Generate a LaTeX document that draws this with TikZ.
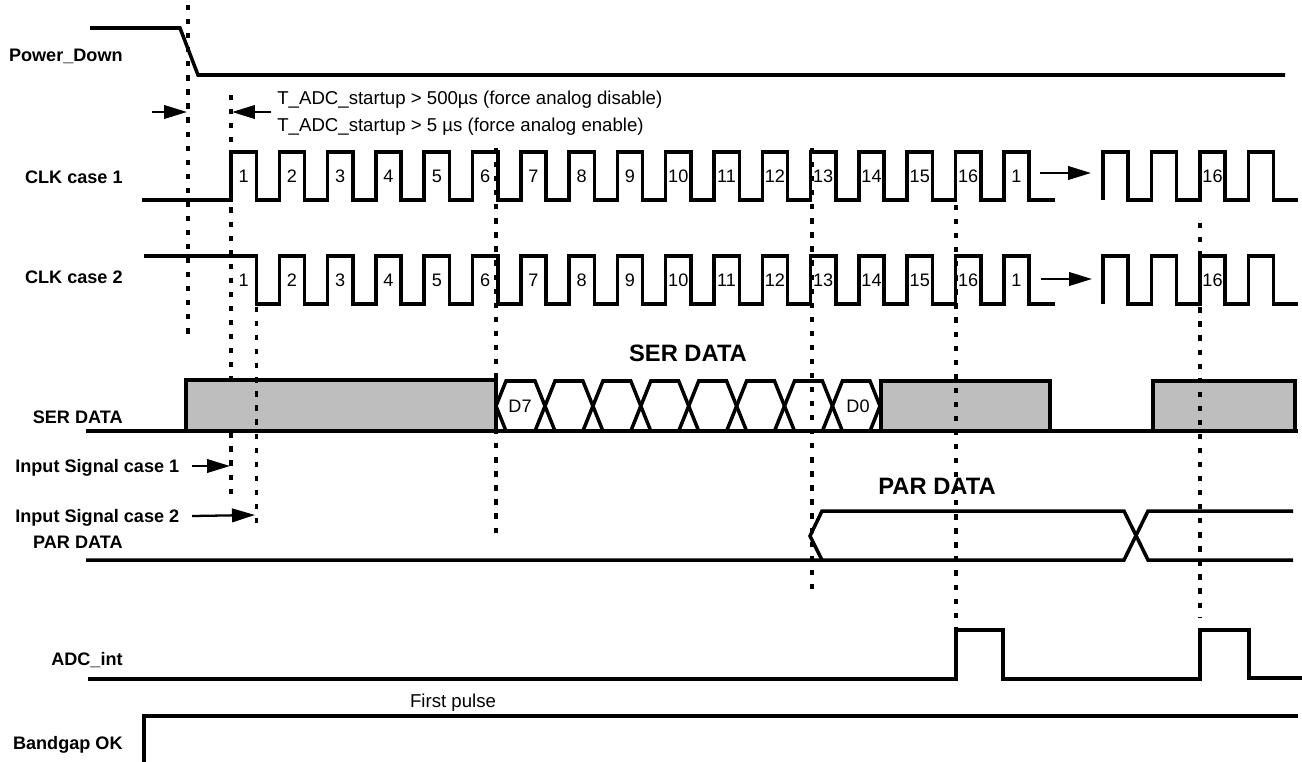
\documentclass[tikz,border=0pt]{standalone}
\usepackage{fontspec}
\setmainfont{Liberation Sans}
\usetikzlibrary{arrows.meta, positioning}
\definecolor{busyGray}{HTML}{BEBEBE}

\begin{document}
\begin{tikzpicture}[x=0.02cm, y=-0.02cm,
  sig/.style={line width=2pt},
  guide/.style={line width=1.8pt, dash pattern=on 3pt off 5pt},
  rowlabel/.style={anchor=east, inner sep=0pt, text height=0.72em, text depth=0pt, font=\fontsize{10.3}{12}\selectfont\bfseries},
  num/.style={inner sep=0pt, text height=0.72em, text depth=0pt, font=\fontsize{10.3}{12}\selectfont},
  note/.style={anchor=west, inner sep=0pt, text height=0.72em, text depth=0pt, font=\fontsize{10.6}{12}\selectfont},
  busname/.style={inner sep=0pt, text height=0.72em, text depth=0pt, font=\fontsize{13.5}{16}\selectfont\bfseries},
  tip/.style={line width=1.3pt, -{Triangle[length=0.46cm, width=0.27cm]}},
  busy/.style={draw, line width=2pt, fill=busyGray}]
\useasboundingbox (0,0) rectangle (1302,761);

% row labels
\node[rowlabel] (lpd) at (123,55) {Power\_Down};
\node[rowlabel] (lclk1) at (123,177) {CLK case 1};
\node[rowlabel] (lclk2) at (123,277) {CLK case 2};
\node[rowlabel] (lser) at (123,417) {SER DATA};
\node[rowlabel, anchor=west] (lin1) at (15,466) {Input Signal case 1};
\node[rowlabel, anchor=west] (lin2) at (15,516) {Input Signal case 2};
\node[rowlabel] (lpar) at (123,542) {PAR DATA};
\node[rowlabel] (ladc) at (123,659) {ADC\_int};
\node[rowlabel] (lbg) at (123,743) {Bandgap OK};

% Power_Down
\draw[sig] (90,28) -- (180,28) -- (198,75) -- (1285,75);

% startup time
\node[note] (tdis) at (277,98) {T\_ADC\_startup > 500µs (force analog disable)};
\node[note] (ten) at (277,125) {T\_ADC\_startup > 5 µs (force analog enable)};
\coordinate (suL) at (152,112);
\coordinate (suLt) at (187,112);
\coordinate (suR) at (271,112);
\coordinate (suRt) at (232,112);
\draw[tip] (suL) -- (suLt);
\draw[tip] (suR) -- (suRt);

% CLK case 1
\draw[sig] (142,200) foreach \k in {1,...,17}{ -- ({231+48.3*(\k-1)},200) -- ++(0,-48) -- ++(25.3,0) -- ++(0,48)} -- (1055,200);
\foreach \k in {1,...,16}
  \node[num] (ca\k) at ({243.6+48.3*(\k-1)},176) {\k};
\node[num] (ca17) at (1016.5,176) {1};
\draw[sig] (1103,200) foreach \x in {1103,1151.5,1200,1248.5}{ -- (\x,200) -- ++(0,-48) -- ++(25,0) -- ++(0,48)} -- (1298,200);
\node[num] (cab) at (1212.5,176) {16};
\coordinate (gapa) at (1040,173);
\coordinate (gapat) at (1091,173);
\draw[tip] (gapa) -- (gapat);

% CLK case 2
\draw[sig] (144,256) -- (256.3,256) -- (256.3,304) foreach \k in {2,...,17}{ -- ({231+48.3*(\k-1)},304) -- ++(0,-48) -- ++(25.3,0) -- ++(0,48)} -- (1055,304);
\foreach \k in {1,...,16}
  \node[num] (cb\k) at ({243.6+48.3*(\k-1)},280) {\k};
\node[num] (cb17) at (1016.5,280) {1};
\draw[sig] (1103,304) foreach \x in {1103,1151.5,1200,1248.5}{ -- (\x,304) -- ++(0,-48) -- ++(25,0) -- ++(0,48)} -- (1298,304);
\node[num] (cbb) at (1212.5,280) {16};
\coordinate (gapb) at (1041,279);
\coordinate (gapbt) at (1092,279);
\draw[tip] (gapb) -- (gapbt);

% guide hidden by the first box
\draw[guide] (231,95) -- (231,497);

% SER DATA
\draw[sig] (86,431) -- (1298,431);
\draw[busy] (186,380) rectangle (496,431);
\foreach \a/\b in {496/545,545/592.9,592.9/640.8,640.8/688.7,688.7/736.6,736.6/784.5,784.5/832.4,832.4/880}
  \draw[sig] (\a,406) -- (\a+10,381) -- (\b-10,381) -- (\b,406) -- (\b-10,431) -- (\a+10,431) -- cycle;
\node[num] (d7) at (520,406) {D7};
\node[num] (d0) at (858,406) {D0};
\draw[busy] (881,381) rectangle (1050,431);
\draw[busy] (1153,381) rectangle (1295,431);
\node[busname] (tser) at (688,355) {SER DATA};

% input signals
\coordinate (in1t) at (230,466);
\coordinate (in2t) at (255,515);
\draw[tip] ([xshift=0.25cm]lin1.east) -- (in1t);
\draw[tip] ([xshift=0.25cm]lin2.east) -- (in2t);

% PAR DATA
\draw[sig] (86,560) -- (1124,560) -- (1148,511) -- (1293,511);
\draw[sig] (822,560) -- (810,536) -- (822,511) -- (1124,511) -- (1148,560) -- (1293,560);
\node[busname] (tpar) at (937,488) {PAR DATA};

% ADC_int
\draw[sig] (88,679) -- (956,679) -- (956,630) -- (1003,630) -- (1003,679) -- (1200,679) -- (1200,630) -- (1249,630) -- (1249,678) -- (1302,678);

% Bandgap OK
\draw[sig] (144,765) -- (144,716) -- (1298,716);
\node[note, anchor=center] (fp) at (453,701) {First pulse};

% guides
\draw[guide] (188,5) -- (188,342);
\draw[guide] (256.5,307) -- (256.5,525);
\draw[guide] (496,148) -- (496,540);
\draw[guide] (812,148) -- (812,593);
\draw[guide] (956,205) -- (956,627);
\draw[guide] (1200,223) -- (1200,618);
\end{tikzpicture}
\end{document}
